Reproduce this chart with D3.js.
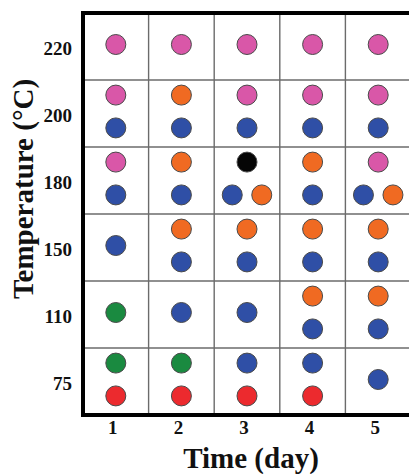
<!DOCTYPE html>
<html>
<head>
<meta charset="utf-8">
<script src="https://cdn.jsdelivr.net/npm/d3@7/dist/d3.min.js"></script>
<style>
  html, body { margin: 0; padding: 0; background: #fff; }
  svg { display: block; }
  text { font-family: "Liberation Serif", "Times New Roman", serif; font-weight: bold; fill: #111; }
</style>
</head>
<body>
<svg id="chart" width="409" height="474"></svg>
<script>
// Heating time (days) along x, temperature (°C) along y
const days = [1, 2, 3, 4, 5];
const temps = [220, 200, 180, 150, 110, 75];

// Phase codes found in each cell: one list per day, each cell a list of
// rows of phases (top row first, phases in a row side by side).
const row220 = [[["P"]], [["P"]], [["P"]], [["P"]], [["P"]]];
const row200 = [[["P"], ["B"]], [["O"], ["B"]], [["P"], ["B"]], [["P"], ["B"]], [["P"], ["B"]]];
const row180 = [[["P"], ["B"]], [["O"], ["B"]], [["K"], ["B", "O"]], [["O"], ["B"]], [["P"], ["B", "O"]]];
const row150 = [[["B"]], [["O"], ["B"]], [["O"], ["B"]], [["O"], ["B"]], [["O"], ["B"]]];
const row110 = [[["G"]], [["B"]], [["B"]], [["O"], ["B"]], [["O"], ["B"]]];
const row75  = [[["G"], ["R"]], [["G"], ["R"]], [["B"], ["R"]], [["B"], ["R"]], [["B"]]];

const phaseCodes = ["P", "O", "B", "K", "G", "R"];
const phaseFill = ["#d957a8", "#f06a22", "#2f4fa6", "#050505", "#1a8a40", "#ec2a2e"];

const rowsByTemp = new Map([[220, row220], [200, row200], [180, row180], [150, row150], [110, row110], [75, row75]]);

// Flatten into one record per dot, keeping the within-cell row/slot structure
const dots = [];
temps.forEach(t => {
  rowsByTemp.get(t).forEach((cell, di) => {
    cell.forEach((line, li) => {
      line.forEach((phase, pi) => {
        dots.push({ day: days[di], temp: t, phase, line: li, nLines: cell.length, slot: pi, nSlots: line.length });
      });
    });
  });
});

const svg = d3.select("#chart");
const margin = { left: 83, top: 13, right: -2, bottom: 59 };
const W = 409, H = 474;

const x = d3.scaleBand().domain(days).range([margin.left, W - margin.right]);
const y = d3.scaleBand().domain(temps).range([margin.top, H - margin.bottom]);
const color = d3.scaleOrdinal().domain(phaseCodes).range(phaseFill);

const lineGap = y.bandwidth() * 0.49;
const slotGap = x.bandwidth() * 0.45;
const r = 10;

// Inner grid lines at the cell boundaries
const g = svg.append("g");
g.selectAll("line.v")
  .data(days.slice(1))
  .join("line")
  .attr("x1", d => x(d)).attr("x2", d => x(d))
  .attr("y1", margin.top).attr("y2", H - margin.bottom)
  .attr("stroke", "#6b6b6b").attr("stroke-width", 1.4);
g.selectAll("line.h")
  .data(temps.slice(1))
  .join("line")
  .attr("y1", d => y(d)).attr("y2", d => y(d))
  .attr("x1", margin.left).attr("x2", W)
  .attr("stroke", "#6b6b6b").attr("stroke-width", 1.4);

// Heavy frame: top, left and bottom
const frame = d3.path();
frame.moveTo(W + 5, margin.top);
frame.lineTo(margin.left, margin.top);
frame.lineTo(margin.left, H - margin.bottom);
frame.lineTo(W + 5, H - margin.bottom);
svg.append("path").attr("d", frame.toString())
  .attr("fill", "none").attr("stroke", "#000").attr("stroke-width", 4);

// Dots
svg.append("g").selectAll("circle")
  .data(dots)
  .join("circle")
  .attr("cx", d => x(d.day) + x.bandwidth() / 2 + (d.slot - (d.nSlots - 1) / 2) * slotGap)
  .attr("cy", d => y(d.temp) + y.bandwidth() / 2 - 2 + (d.line - (d.nLines - 1) / 2) * lineGap)
  .attr("r", r)
  .attr("fill", d => color(d.phase))
  .attr("stroke", "#4a4a4a")
  .attr("stroke-width", 1);

// Axes (labels only, no tick marks)
const xAxis = d3.axisBottom(x).tickSize(0).tickPadding(0);
const gx = svg.append("g").attr("transform", `translate(-3, ${H - margin.bottom})`).call(xAxis);
gx.select(".domain").remove();
gx.selectAll("text").attr("font-size", 19).attr("font-family", null).attr("y", 19).attr("dy", null);

const yAxis = d3.axisLeft(y).tickSize(0).tickPadding(0);
const gy = svg.append("g").attr("transform", `translate(${margin.left - 11}, 2)`).call(yAxis);
gy.select(".domain").remove();
gy.selectAll("text").attr("font-size", 19).attr("font-family", null);

// Axis titles
svg.append("text")
  .attr("x", 251).attr("y", 468)
  .attr("text-anchor", "middle")
  .attr("font-size", 29)
  .text("Time (day)");

svg.append("text")
  .attr("transform", "translate(33, 189) rotate(-90)")
  .attr("text-anchor", "middle")
  .attr("font-size", 29)
  .text("Temperature (°C)");
</script>
</body>
</html>
